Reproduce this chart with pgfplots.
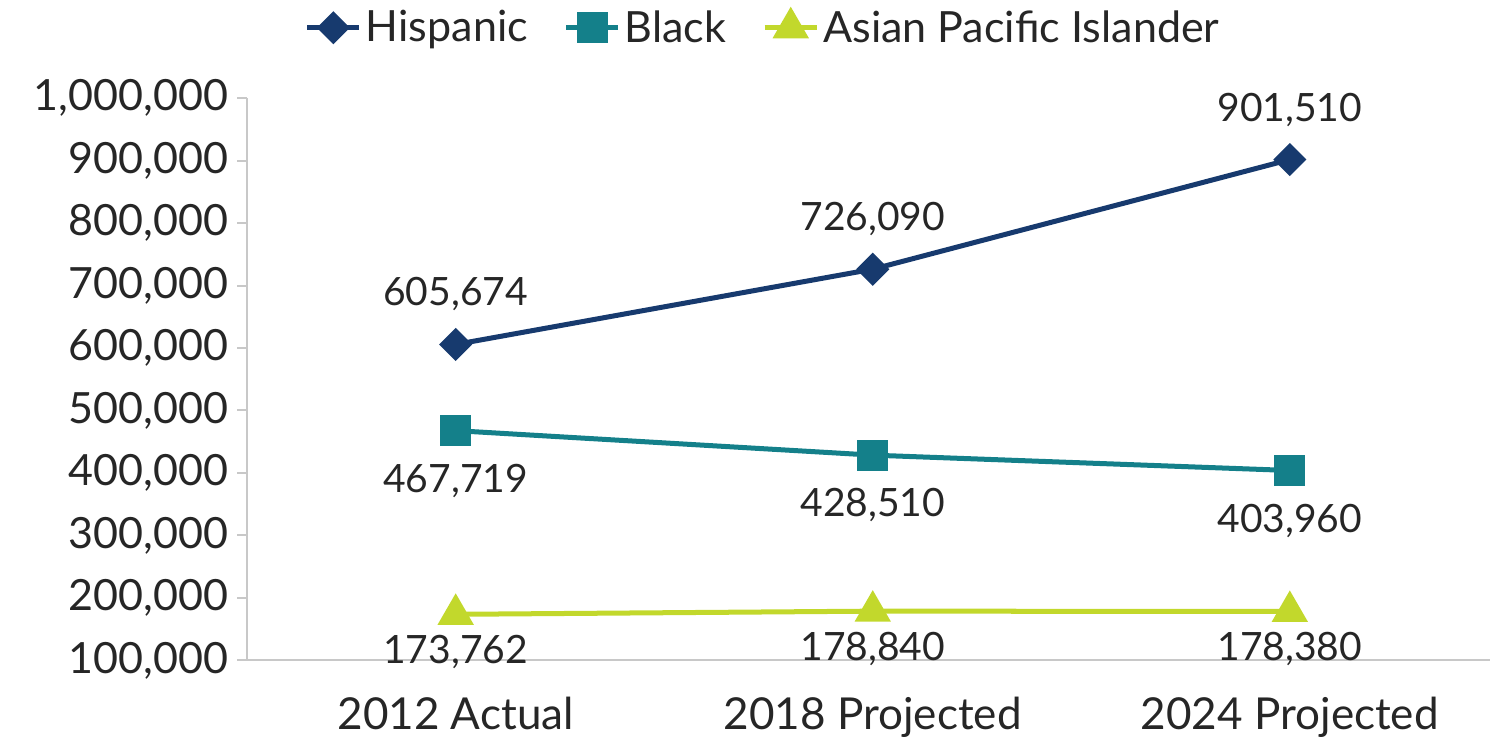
\documentclass[border=0pt]{standalone}
\usepackage{fontspec}
\setmainfont{Lato}
\usepackage{pgfplots}
\pgfplotsset{compat=1.18}
\definecolor{hisp}{HTML}{173A6E}
\definecolor{blk}{HTML}{14808A}
\definecolor{api}{HTML}{C2D82C}
\definecolor{axgray}{HTML}{C8C8C8}
\begin{document}
\begin{tikzpicture}
\begin{axis}[
  scale only axis,
  width=621pt, height=281pt,
  xmin=-0.5, xmax=2.48,
  ymin=100000, ymax=1000000,
  ytick={100000,200000,...,1000000},
  xtick={0,1,2},
  xticklabels={2012 Actual,2018 Projected,2024 Projected},
  axis x line=bottom, axis y line=left,
  axis line style={axgray, line width=1pt, -},
  x axis line style={-}, y axis line style={-},
  major x tick style={draw=none},
  major y tick style={axgray, line width=1pt},
  tick align=outside,
  major tick length=5pt,
  /pgf/number format/assume math mode=true,
  /pgf/number format/1000 sep={,},
  /pgf/number format/fixed,
  scaled y ticks=false,
  yticklabel style={font=\fontsize{21.5}{25}\selectfont, text=black!85, xshift=-1pt},
  xticklabel style={font=\fontsize{22}{26}\selectfont, text=black!85, yshift=-10pt},
  legend columns=3,
  legend style={draw=none, at={(0.416,1.125)}, anchor=center, inner sep=1pt,
    font=\fontsize{21.5}{25}\selectfont, text=black!85,
    /tikz/every even column/.append style={column sep=16pt}},
  legend image code/.code={
    \draw[#1, mark repeat=2, mark phase=2] plot coordinates {(0pt,0pt) (13pt,0pt) (26pt,0pt)};},
  nodes near coords,
  every node near coord/.append style={font=\fontsize{19.5}{23}\selectfont, text=black!85},
  point meta=explicit symbolic,
  clip=false,
]
\addplot[hisp, line width=2.5pt, mark=square*, mark size=4.6pt, mark options={rotate=45},
  every node near coord/.append style={anchor=center, yshift=25pt}]
  coordinates {(0,605674)[605,674] (1,726090)[726,090] (2,901510)[901,510]};
\addlegendentry{Hispanic}
\addplot[blk, line width=2.5pt, mark=square*, mark size=6.5pt,
  every node near coord/.append style={anchor=center, yshift=-25pt}]
  coordinates {(0,467719)[467,719] (1,428510)[428,510] (2,403960)[403,960]};
\addlegendentry{Black}
\addplot[api, line width=2.5pt, mark=triangle*, mark size=8pt,
  every node near coord/.append style={anchor=center, yshift=-19pt}]
  coordinates {(0,173762)[173,762] (1,178840)[178,840] (2,178380)[178,380]};
\addlegendentry{Asian Pacific Islander}
\end{axis}
\path (current axis.south west) ++(-123.5pt,-39pt);
\path (current axis.north west) ++(0,49pt);
\end{tikzpicture}
\end{document}
